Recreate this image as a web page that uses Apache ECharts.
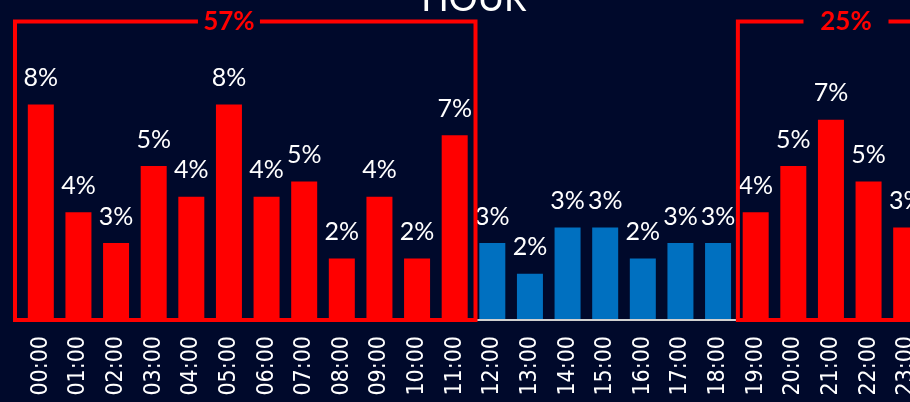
<!DOCTYPE html>
<html><head><meta charset="utf-8">
<script src="https://cdn.jsdelivr.net/npm/echarts@6/dist/echarts.min.js"></script>
<style>
html,body{margin:0;padding:0;background:#00092b;overflow:hidden;width:910px;height:402px}
#c{position:absolute;left:0;top:0;width:948px;height:402px}
</style></head>
<body><div id="c"></div>
<script>
const chartTitle = 'HOUR';
const hours = ['00:00','01:00','02:00','03:00','04:00','05:00','06:00','07:00','08:00','09:00','10:00','11:00',
               '12:00','13:00','14:00','15:00','16:00','17:00','18:00','19:00','20:00','21:00','22:00','23:00'];
const counts = [14,7,5,10,8,14,8,9,4,8,4,12,5,3,6,6,4,5,5,7,10,13,9,6];
const groupStart = [0, 19];
const groupEnd = [11, 23];

const RED = '#ff0000', BLUE = '#0070c0', BG = '#00092b';
const total = counts.reduce((a, b) => a + b, 0);
const pct = v => Math.round(v / total * 100) + '%';
function inGroup(i) {
  for (let g = 0; g < groupStart.length; g++) if (i >= groupStart[g] && i <= groupEnd[g]) return true;
  return false;
}

const chart = echarts.init(document.getElementById('c'), null, {renderer: 'canvas'});
chart.setOption({
  backgroundColor: BG,
  animation: false,
  title: {text: chartTitle, left: 'center', top: -24,
    textStyle: {color: '#ffffff', fontFamily: 'Lato', fontSize: 36, fontWeight: 'normal'}},
  grid: {left: 22, right: 23, top: 12, bottom: 82},
  xAxis: {type: 'category', data: hours, z: 5,
    axisLine: {lineStyle: {color: '#d0d0d0', width: 2}},
    axisTick: {show: false},
    axisLabel: {rotate: 90, color: '#ffffff', fontFamily: 'DejaVu Sans Condensed', fontSize: 23, margin: 16, interval: 0}},
  yAxis: {type: 'value', min: 0, max: 20, show: false, splitLine: {show: false}},
  series: [{
    type: 'bar', barWidth: 26,
    data: counts.map((v, i) => ({value: v, itemStyle: {color: inGroup(i) ? RED : BLUE}})),
    label: {show: true, position: 'top', distance: 14, color: '#ffffff', fontFamily: 'Lato', fontSize: 25,
      formatter: p => pct(p.value)}
  }]
});

// group frames with share labels
const x0 = chart.convertToPixel({xAxisIndex: 0}, hours[0]);
const band = chart.convertToPixel({xAxisIndex: 0}, hours[1]) - x0;
const yBase = chart.convertToPixel({yAxisIndex: 0}, 0);
const padL = [7, -1], padR = [2, 2], labelPos = [5, 21.4], gapHalf = [31, 42.5];
const topY = 21.5;
const elements = [];
for (let g = 0; g < groupStart.length; g++) {
  const left = x0 + (groupStart[g] - 0.5) * band - padL[g];
  const right = x0 + (groupEnd[g] + 0.5) * band + padR[g];
  const cx = x0 + labelPos[g] * band;
  let sum = 0;
  for (let i = groupStart[g]; i <= groupEnd[g]; i++) sum += counts[i];
  elements.push({
    type: 'polyline', z: 100,
    shape: {points: [[cx + gapHalf[g], topY], [right, topY], [right, yBase], [left, yBase], [left, topY], [cx - gapHalf[g], topY]]},
    style: {stroke: RED, lineWidth: 4, fill: null}
  });
  elements.push({
    type: 'text', z: 101, x: cx, y: topY,
    style: {text: pct(sum), fill: RED, font: 'bold 26px Lato', align: 'center', verticalAlign: 'middle'}
  });
}
chart.setOption({graphic: elements});
</script>
</body></html>
